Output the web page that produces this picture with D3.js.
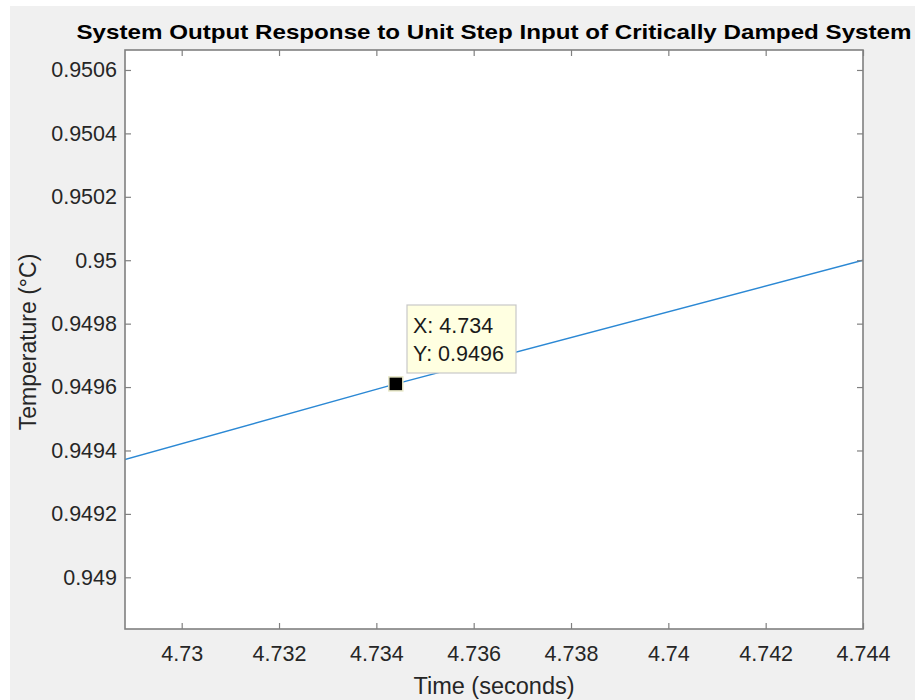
<!DOCTYPE html>
<html lang="en">
<head>
<meta charset="utf-8">
<title>Critically Damped Step Response</title>
<script src="https://d3js.org/d3.v7.min.js"></script>
<style>
  body { margin: 0; background: #fff; }
  svg { display: block; font-family: "Liberation Sans", Arial, sans-serif; }
</style>
</head>
<body>
<svg width="915" height="700"></svg>
<script>
// values
var timeVals = [4.7288, 4.7344, 4.7440];
var tempVals = [0.94937, 0.94961, 0.95000];
var xTicks = [4.73, 4.732, 4.734, 4.736, 4.738, 4.74, 4.742, 4.744];
var yTicks = [0.949, 0.9492, 0.9494, 0.9496, 0.9498, 0.95, 0.9502, 0.9504, 0.9506];
var tipPoint = [4.7344, 0.94961];
var tipLabels = ["X: 4.734", "Y: 0.9496"];

var svg = d3.select("svg");
var m = { left: 125, right: 863, top: 50, bottom: 629 };

svg.append("rect").attr("x", 10).attr("y", 6).attr("width", 905).attr("height", 694).attr("fill", "#f0f0f0");

var x = d3.scaleLinear().domain([4.728835, 4.744]).range([m.left, m.right]);
var y = d3.scaleLinear().domain([0.948837, 0.950663]).range([m.bottom, m.top]);

svg.append("rect").attr("x", m.left).attr("y", m.top).attr("width", m.right - m.left).attr("height", m.bottom - m.top).attr("fill", "#fff");

svg.append("clipPath").attr("id", "clip").append("rect")
  .attr("x", m.left).attr("y", m.top).attr("width", m.right - m.left).attr("height", m.bottom - m.top);

var line = d3.line().x(d => x(d[0])).y(d => y(d[1]));
svg.append("path")
  .datum(timeVals.map((t, i) => [t, tempVals[i]]))
  .attr("clip-path", "url(#clip)")
  .attr("d", line)
  .attr("fill", "none").attr("stroke", "#2b88d4").attr("stroke-width", 1.5);

// axes: ticks inside, mirrored on top and right
var tickColor = "#808080", labelColor = "#262626";
var fmt = d3.format("~g");

function styleAxis(g) {
  g.select(".domain").remove();
  g.selectAll(".tick line").attr("stroke", tickColor).attr("stroke-width", 1.2);
  g.selectAll(".tick text").attr("fill", labelColor).style("font-size", "21.5px");
}

svg.append("g").attr("transform", `translate(0,${m.bottom})`)
  .call(d3.axisBottom(x).tickValues(xTicks).tickFormat(fmt).tickSizeInner(-6).tickPadding(17))
  .call(styleAxis);
svg.append("g").attr("transform", `translate(0,${m.top})`)
  .call(d3.axisTop(x).tickValues(xTicks).tickFormat("").tickSizeInner(-6))
  .call(styleAxis);
svg.append("g").attr("transform", `translate(${m.left},0)`)
  .call(d3.axisLeft(y).tickValues(yTicks).tickFormat(fmt).tickSizeInner(-6).tickPadding(8))
  .call(styleAxis);
svg.append("g").attr("transform", `translate(${m.right},0)`)
  .call(d3.axisRight(y).tickValues(yTicks).tickFormat("").tickSizeInner(-6))
  .call(styleAxis);

svg.append("rect").attr("x", m.left).attr("y", m.top).attr("width", m.right - m.left).attr("height", m.bottom - m.top)
  .attr("fill", "none").attr("stroke", tickColor).attr("stroke-width", 1.6);

// title and axis labels
svg.append("text").attr("x", (m.left + m.right) / 2).attr("y", 39)
  .attr("text-anchor", "middle").attr("font-weight", "bold").attr("font-size", 21).attr("fill", "#000")
  .text("System Output Response to Unit Step Input of Critically Damped System")
  .attr("textLength", 835).attr("lengthAdjust", "spacingAndGlyphs");
svg.append("text").attr("x", (m.left + m.right) / 2).attr("y", 694)
  .attr("text-anchor", "middle").attr("font-size", 23.5).attr("fill", labelColor)
  .text("Time (seconds)");
svg.append("text").attr("transform", `translate(36,342) rotate(-90)`)
  .attr("text-anchor", "middle").attr("font-size", 23).attr("fill", labelColor)
  .text("Temperature (°C)");

// data tip
var tx = x(tipPoint[0]), ty = y(tipPoint[1]);
var tip = svg.append("g");
tip.append("rect").attr("x", 407).attr("y", 305).attr("width", 109).attr("height", 68)
  .attr("fill", "#ffffe1").attr("stroke", "#c8c8c8").attr("stroke-width", 1.2);
tip.selectAll("text").data(tipLabels).enter().append("text")
  .attr("x", 413).attr("y", (d, i) => 333 + i * 28)
  .attr("font-size", 21.5).attr("fill", "#1a1a1a").text(d => d);
svg.append("rect").attr("x", tx - 7).attr("y", ty - 7).attr("width", 14).attr("height", 14)
  .attr("fill", "#000").attr("stroke", "#e8e8c8").attr("stroke-width", 1.5);
</script>
</body>
</html>
